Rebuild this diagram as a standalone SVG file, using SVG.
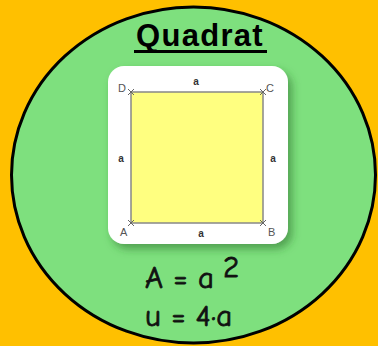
<svg xmlns="http://www.w3.org/2000/svg" width="378" height="346" viewBox="0 0 378 346">
<style>
.lbl{font-family:"Liberation Sans",Arial,sans-serif;font-size:11px;fill:#555}
.side{font-family:"Liberation Sans",Arial,sans-serif;font-size:10px;font-weight:bold;fill:#333}
.f{font-family:"Comic Neue","Open Sans","DejaVu Sans",sans-serif;font-size:31px;fill:#111;stroke:#111;stroke-width:0.8}
.x{stroke:#666;stroke-width:1}
</style>
<defs>
<filter id="sh" x="-20%" y="-20%" width="150%" height="150%">
<feGaussianBlur in="SourceAlpha" stdDeviation="4"/>
<feOffset dx="4" dy="5" result="b"/>
<feFlood flood-color="#2a6b2a" flood-opacity="0.55"/>
<feComposite in2="b" operator="in"/>
<feMerge><feMergeNode/><feMergeNode in="SourceGraphic"/></feMerge>
</filter>
</defs>
<rect width="378" height="346" fill="#FFC000"/>
<g id="oval">
<ellipse cx="193.5" cy="175" rx="182" ry="168" fill="#7EE07E" stroke="#000" stroke-width="3"/>
</g>
<g id="title">
<text x="200" y="46" text-anchor="middle" font-family="'Liberation Sans',Arial,sans-serif" font-size="31" font-weight="bold" letter-spacing="1.3" fill="#000">Quadrat</text>
<rect x="134" y="50" width="133" height="3" fill="#000"/>
</g>
<g id="card">
<rect x="108" y="66" width="180" height="178" rx="16" fill="#fff" filter="url(#sh)"/>
<rect x="131" y="92" width="132" height="131" fill="#FFFF80" stroke="#888" stroke-width="1.5"/>
<path class="x" d="M128 89l6 6M134 89l-6 6M260 89l6 6M266 89l-6 6M128 220l6 6M134 220l-6 6M260 220l6 6M266 220l-6 6"/>
<text class="lbl" x="118" y="92">D</text>
<text class="lbl" x="266" y="92">C</text>
<text class="lbl" x="120" y="236">A</text>
<text class="lbl" x="268" y="236">B</text>
<text class="side" x="196" y="85" text-anchor="middle">a</text>
<text class="side" x="121" y="162" text-anchor="middle">a</text>
<text class="side" x="273" y="162" text-anchor="middle">a</text>
<text class="side" x="201" y="237" text-anchor="middle">a</text>
</g>
<g id="formulas">
<text class="f" x="145" y="288">A = a</text>
<text class="f" x="223" y="277" font-size="15" stroke-width="0.5">2</text>
<text class="f" x="145" y="326">u = 4·a</text>
</g>
</svg>
